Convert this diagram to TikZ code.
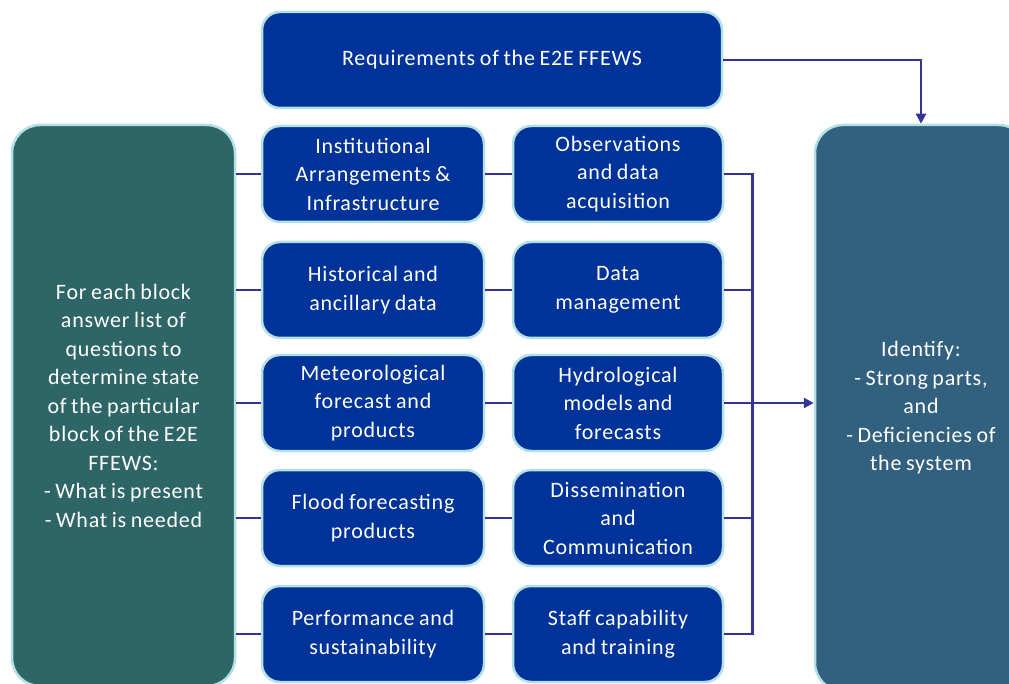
\documentclass[tikz,border=0pt]{standalone}
\usepackage{fontspec}
\setmainfont{Carlito}[LetterSpace=3.5, WordSpace=0.8]
\usetikzlibrary{positioning,arrows.meta}

\definecolor{blockblue}{RGB}{0,51,153}
\definecolor{glow}{RGB}{178,224,228}
\definecolor{tealbox}{RGB}{46,102,104}
\definecolor{steelbox}{RGB}{50,97,128}
\definecolor{linecol}{RGB}{51,51,153}

\begin{document}
\begin{tikzpicture}[x=1pt, y=-1pt,
    block/.style={draw=glow, line width=2.5pt, fill=blockblue, rounded corners=18pt,
        text=white, align=center, inner sep=0pt, font=\fontsize{22}{28.5}\selectfont},
    colA/.style={block, minimum width=222pt, minimum height=96pt},
    colB/.style={block, minimum width=210pt, minimum height=96pt},
    wire/.style={draw=linecol, line width=2.5pt},
    >={Triangle[length=10pt,width=10pt]}]

    % Page
    \useasboundingbox (0,0) rectangle (1009,684);
    \clip (0,0) rectangle (1009,684);

    % Top block
    \node[block, minimum width=460pt, minimum height=96pt] (req) at (492,60) {Requirements of the E2E FFEWS};

    % Side blocks
    \node[block, fill=tealbox, minimum width=223pt, minimum height=561pt, rounded corners=28pt] (ask) at (123.5,405.5)
        {For each block\\answer list of\\questions to\\determine state\\of the particular\\block of the E2E\\FFEWS:\\- What is present\\- What is needed};
    \node[block, fill=steelbox, minimum width=212pt, minimum height=566pt, rounded corners=28pt] (ident) at (921,408)
        {Identify:\\- Strong parts,\\and\\- Deficiencies of\\the system};

    % Blocks of the system
    \node[colA] (inst) at (373,174) {Institutional\\Arrangements \&\\Infrastructure};
    \node[colA] (hist) at (373,290) {Historical and\\ancillary data};
    \node[colA] (met) at (373,403) {Meteorological\\forecast and\\products};
    \node[colA] (flood) at (373,518) {Flood forecasting\\products};
    \node[colA] (perf) at (373,634) {Performance and\\sustainability};

    \node[colB] (obs) at (618,174) {Observations\\and data\\acquisition};
    \node[colB] (dm) at (618,290) {Data\\management};
    \node[colB] (hyd) at (618,403) {Hydrological\\models and\\forecasts};
    \node[colB] (diss) at (618,518) {Dissemination\\and\\Communication};
    \node[colB] (staff) at (618,634) {Staff capability\\and training};

    % Links
    \draw[wire] (ask.east |- inst) -- (inst) (inst) -- (obs);
    \draw[wire] (ask.east |- hist) -- (hist) (hist) -- (dm);
    \draw[wire] (ask.east |- met) -- (met) (met) -- (hyd);
    \draw[wire] (ask.east |- flood) -- (flood) (flood) -- (diss);
    \draw[wire] (ask.east |- perf) -- (perf) (perf) -- (staff);

    % Collector
    \coordinate[right=28pt of obs.east] (bus);
    \draw[wire] (obs.east) -- (bus) |- (staff.east);
    \draw[wire] (dm.east) -- (dm.east -| bus);
    \draw[wire] (diss.east) -- (diss.east -| bus);
    \draw[wire, ->] (hyd.east) -- (hyd.east -| ident.west);
    \draw[wire, ->] (req.east) -| (ident.north);

\end{tikzpicture}
\end{document}
